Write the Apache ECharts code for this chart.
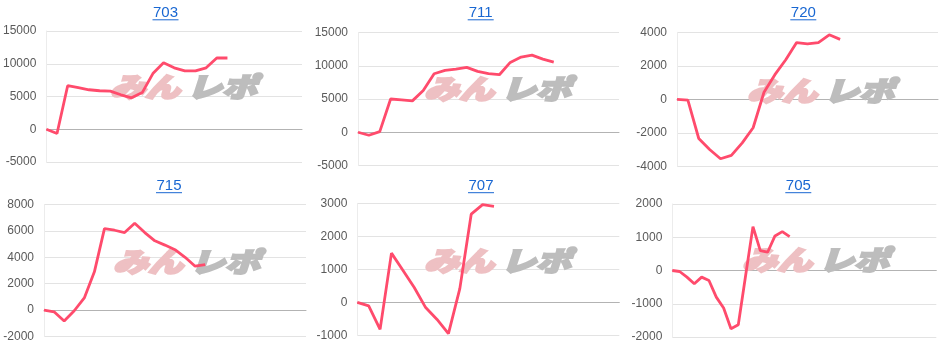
<!DOCTYPE html>
<html><head><meta charset="utf-8">
<script src="https://cdn.jsdelivr.net/npm/echarts@6/dist/echarts.min.js"></script>
<style>html,body{margin:0;padding:0;background:#fff}#c{width:945px;height:348px}</style>
</head><body><div id="c"></div>
<script>
// Panel titles
const titles = ['703', '711', '720', '715', '707', '705'];
// Number of x slots per panel (hidden category axis)
const slotCounts = [25, 25, 25, 27, 24, 37];
// Series values
const s703 = [0, -650, 6650, 6350, 6030, 5880, 5820, 5260, 4800, 5600, 8500, 10150, 9380, 8900, 8900, 9380, 10880, 10880];
const s711 = [0, -450, 100, 5000, 4870, 4720, 6280, 8800, 9300, 9500, 9750, 9150, 8800, 8650, 10500, 11300, 11600, 11000, 10550];
const s720 = [0, -50, -2340, -3000, -3550, -3350, -2600, -1700, 420, 1470, 2360, 3390, 3310, 3390, 3850, 3580];
const s715 = [0, -130, -825, -50, 925, 2900, 6175, 6050, 5875, 6575, 5875, 5250, 4925, 4575, 4000, 3325, 3450];
const s707 = [0, -110, -820, 1490, 970, 450, -160, -520, -950, 415, 2670, 2960, 2910];
const s705 = [0, -30, -200, -400, -200, -300, -800, -1130, -1750, -1630, -150, 1320, 600, 550, 1040, 1170, 1020];
const seriesData = [s703, s711, s720, s715, s707, s705];
// Y-axis ranges [min, max, interval]
const yRanges = [[-5000, 15000, 5000], [-5000, 15000, 5000], [-4000, 4000, 2000], [-2000, 8000, 2000], [-1000, 3000, 1000], [-2000, 2000, 1000]];

// Layout (pixels)
const grids = [
  {left: 44, top: 31, width: 258, height: 131},
  {left: 358, top: 32.5, width: 261, height: 133},
  {left: 677, top: 32.3, width: 261, height: 134},
  {left: 44, top: 204.5, width: 262, height: 132},
  {left: 357.3, top: 203.3, width: 262, height: 132},
  {left: 672.3, top: 204, width: 264, height: 133}
];
const titlePos = [[165.5, 12.8], [480.7, 12.8], [803.3, 12.8], [169, 185.7], [481, 185.7], [798.3, 185.7]];
const markPos = [[183, 87], [497, 89], [820, 90.5], [186, 261.5], [497, 261], [815, 260]];

const LINE = '#ff4b6c', BLUE = '#1967d2';
const chart = echarts.init(document.getElementById('c'));
const xAxis = [], yAxis = [], series = [], graphic = [];
grids.forEach((g, i) => {
  const cats = [];
  for (let k = 0; k < slotCounts[i]; k++) cats.push(String(k + 1));
  xAxis.push({
    type: 'category', gridIndex: i, data: cats, boundaryGap: false,
    axisLine: {show: true, onZero: true, lineStyle: {color: '#b3b3b3', width: 1}},
    axisTick: {show: false}, axisLabel: {show: false}, splitLine: {show: false}
  });
  const r = yRanges[i];
  yAxis.push({
    type: 'value', gridIndex: i, min: r[0], max: r[1], interval: r[2],
    axisLine: {show: true, lineStyle: {color: '#ececec'}},
    axisTick: {show: false},
    axisLabel: {color: '#5a5a5a', fontSize: 12, fontFamily: 'Liberation Sans, Arial, sans-serif', margin: 10,
      formatter: v => String(v)},
    splitLine: {lineStyle: {color: '#e3e3e3', width: 1}}
  });
  series.push({
    type: 'line', xAxisIndex: i, yAxisIndex: i, data: seriesData[i],
    showSymbol: false, symbol: 'none', z: 5,
    lineStyle: {color: LINE, width: 2.8}, silent: true, animation: false
  });
  const [tx, ty] = titlePos[i];
  graphic.push({
    type: 'text', x: tx, y: ty, z: 10,
    style: {text: titles[i], fill: BLUE, font: '15px "Liberation Sans", Arial, sans-serif', textAlign: 'center', textVerticalAlign: 'middle'}
  });
  graphic.push({
    type: 'line', z: 10,
    shape: {x1: tx - 13, y1: ty + 7, x2: tx + 13, y2: ty + 7},
    style: {stroke: BLUE, lineWidth: 1}
  });
  const [mx, my] = markPos[i];
  graphic.push({
    type: 'text', x: mx - 38, y: my, z: 1, scaleX: 1.3,
    style: {text: 'みん', fill: '#eec0c3', stroke: '#eec0c3', lineWidth: 2.2,
      font: 'italic 900 27px "Noto Sans CJK JP", sans-serif', textAlign: 'center', textVerticalAlign: 'middle'}
  });
  graphic.push({
    type: 'text', x: mx + 39, y: my, z: 1, scaleX: 1.3,
    style: {text: 'レポ', fill: '#bdbdbd', stroke: '#bdbdbd', lineWidth: 2.2,
      font: 'italic 900 27px "Noto Sans CJK JP", sans-serif', textAlign: 'center', textVerticalAlign: 'middle'}
  });
});
chart.setOption({
  animation: false,
  grid: grids.map(g => Object.assign({containLabel: false}, g)),
  xAxis, yAxis, series, graphic
});
</script></body></html>
